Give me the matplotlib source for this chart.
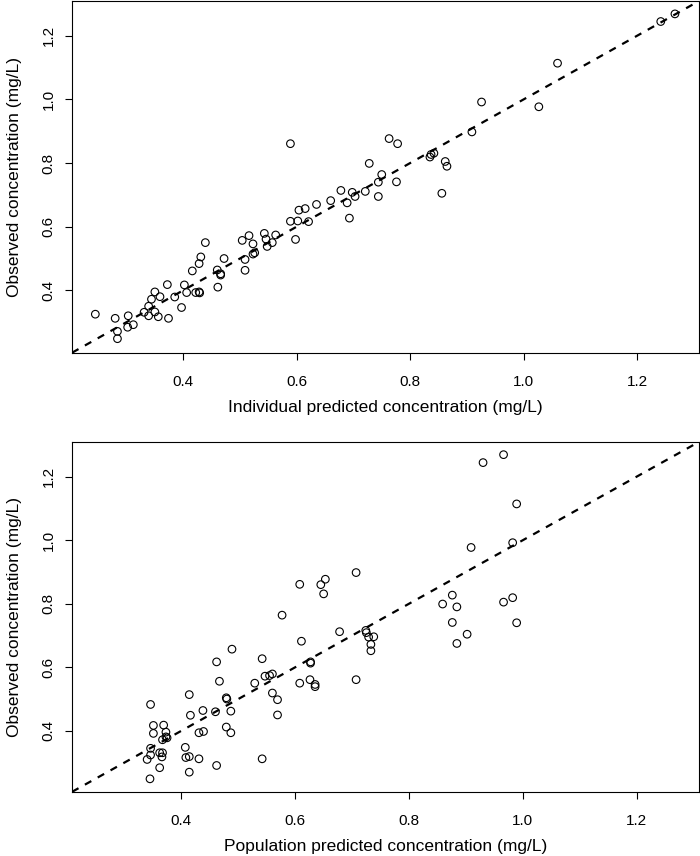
import numpy as np
import matplotlib
matplotlib.use('Agg')
import matplotlib.pyplot as plt

plt.rcParams['font.family'] = ['Liberation Sans', 'DejaVu Sans']

# individual predictions vs observed
ipred = [0.245, 0.280, 0.303, 0.284, 0.284, 0.302, 0.312, 0.331, 0.339, 0.339,
         0.344, 0.350, 0.350, 0.356, 0.359, 0.372, 0.374, 0.385, 0.397, 0.402,
         0.406, 0.416, 0.422, 0.428, 0.428, 0.429, 0.431, 0.439, 0.460, 0.461,
         0.466, 0.466, 0.472, 0.504, 0.509, 0.509, 0.516, 0.523, 0.523, 0.526,
         0.543, 0.546, 0.548, 0.557, 0.563, 0.589, 0.589, 0.598, 0.602, 0.604,
         0.615, 0.621, 0.635, 0.660, 0.678, 0.689, 0.693, 0.698, 0.703, 0.721,
         0.728, 0.744, 0.744, 0.750, 0.763, 0.776, 0.778, 0.835, 0.837, 0.842,
         0.856, 0.862, 0.865, 0.909, 0.926, 1.027, 1.060, 1.242, 1.267]
obs_i = [0.325, 0.312, 0.320, 0.271, 0.248, 0.284, 0.292, 0.331, 0.350, 0.320,
         0.372, 0.395, 0.332, 0.317, 0.380, 0.418, 0.312, 0.379, 0.346, 0.417,
         0.393, 0.461, 0.393, 0.484, 0.395, 0.392, 0.505, 0.550, 0.464, 0.410,
         0.452, 0.448, 0.500, 0.557, 0.497, 0.463, 0.572, 0.546, 0.514, 0.518,
         0.579, 0.561, 0.538, 0.550, 0.574, 0.861, 0.617, 0.560, 0.618, 0.652,
         0.657, 0.616, 0.670, 0.682, 0.714, 0.675, 0.627, 0.708, 0.695, 0.711,
         0.799, 0.740, 0.695, 0.764, 0.877, 0.741, 0.861, 0.819, 0.827, 0.831,
         0.705, 0.805, 0.790, 0.898, 0.992, 0.977, 1.114, 1.245, 1.269]

# population predictions vs observed
pred = [0.966, 0.930, 0.989, 0.982, 0.909, 0.707, 0.608, 0.645, 0.653, 0.650,
        0.876, 0.859, 0.884, 0.966, 0.982, 0.876, 0.989, 0.902, 0.884, 0.577,
        0.678, 0.724, 0.725, 0.729, 0.738, 0.733, 0.733, 0.611, 0.489, 0.462,
        0.542, 0.627, 0.627, 0.626, 0.608, 0.635, 0.635, 0.707, 0.529, 0.547,
        0.555, 0.560, 0.467, 0.560, 0.569, 0.569, 0.479, 0.480, 0.487, 0.487,
        0.479, 0.460, 0.438, 0.416, 0.414, 0.431, 0.439, 0.542, 0.462, 0.431,
        0.414, 0.408, 0.407, 0.414, 0.346, 0.351, 0.351, 0.369, 0.373, 0.367,
        0.373, 0.375, 0.346, 0.346, 0.340, 0.362, 0.367, 0.366, 0.362, 0.345]
obs_p = [1.269, 1.244, 1.114, 0.992, 0.977, 0.898, 0.861, 0.860, 0.877, 0.831,
         0.827, 0.799, 0.790, 0.805, 0.819, 0.741, 0.740, 0.704, 0.675, 0.764,
         0.712, 0.716, 0.709, 0.695, 0.696, 0.672, 0.652, 0.682, 0.657, 0.617,
         0.627, 0.617, 0.613, 0.561, 0.550, 0.546, 0.539, 0.561, 0.550, 0.572,
         0.574, 0.579, 0.556, 0.519, 0.498, 0.450, 0.504, 0.500, 0.462, 0.394,
         0.412, 0.460, 0.464, 0.449, 0.514, 0.394, 0.398, 0.312, 0.291, 0.312,
         0.319, 0.316, 0.348, 0.270, 0.483, 0.417, 0.392, 0.418, 0.396, 0.372,
         0.381, 0.378, 0.345, 0.324, 0.310, 0.331, 0.331, 0.318, 0.284, 0.249]

ticks = [0.4, 0.6, 0.8, 1.0, 1.2]
xlabels = ['Individual predicted concentration (mg/L)',
           'Population predicted concentration (mg/L)']
ylabel = 'Observed concentration (mg/L)'

fig = plt.figure(figsize=(7, 8.56), dpi=100)
ax1 = fig.add_axes([0.103, 0.588, 0.896, 0.411])
ax2 = fig.add_axes([0.103, 0.075, 0.896, 0.409])

for ax, x, y, xl in [(ax1, ipred, obs_i, xlabels[0]), (ax2, pred, obs_p, xlabels[1])]:
    allv = np.concatenate([x, y])
    lo, hi = allv.min(), allv.max()
    pad = 0.04 * (hi - lo)
    lim = (lo - pad, hi + pad)
    ax.scatter(x, y, s=30, facecolors='none', edgecolors='black', linewidths=0.8, zorder=3)
    ax.plot(lim, lim, color='black', lw=1.6, dashes=(3.3, 3.3), zorder=2)
    ax.set_xlim(lim)
    ax.set_ylim(lim)
    ax.set_xticks(ticks)
    ax.set_yticks(ticks)
    ax.set_xticklabels(['%.1f' % t for t in ticks])
    ax.set_yticklabels(['%.1f' % t for t in ticks], rotation=90, va='center')
    ax.tick_params(direction='out', length=5, width=0.8, labelsize=11)
    ax.tick_params(axis='x', pad=11)
    ax.tick_params(axis='y', pad=7)
    for s in ax.spines.values():
        s.set_linewidth(0.8)
    ax.set_xlabel(xl, fontsize=12.5, labelpad=8)
    ax.set_ylabel(ylabel, fontsize=12.5, labelpad=14)

fig.savefig('out.png', dpi=100)
